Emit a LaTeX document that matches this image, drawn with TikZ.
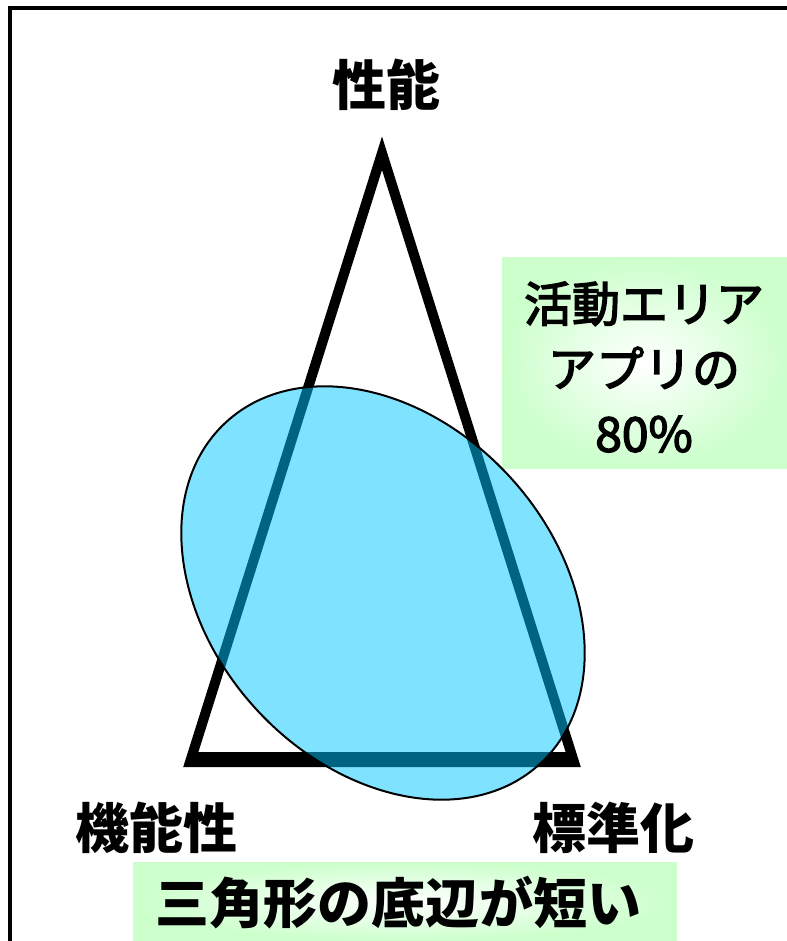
\documentclass[tikz,border=0pt]{standalone}
\usepackage{fontspec}
\newfontfamily\jp{Noto Sans CJK JP}
\newfontfamily\jpm{Noto Sans CJK JP}[FakeBold=3]
\definecolor{boxgreen}{RGB}{204,255,204}
\definecolor{ellfill}{RGB}{0,200,255}
\tikzset{
  greenbox/.style={inner color=white, outer color=boxgreen},
  lbl/.style={font=\jp\bfseries\fontsize{40.5}{46}\selectfont, inner sep=0pt},
  boxtext/.style={font=\jpm\fontsize{36}{48.75}\selectfont, inner sep=0pt, align=center},
}
\begin{document}
\begin{tikzpicture}[x=0.75pt,y=-0.75pt]
\useasboundingbox (0,0) rectangle (787,941);
\clip (0,0) rectangle (787,941);
\fill[white] (0,0) rectangle (787,941);
% frame
\draw[line width=3pt] (9.5,8) rectangle (830,990);
% green boxes
\shade[greenbox] (502,257) rectangle (787,468);
\shade[greenbox] (133,862) rectangle (677,941);
% triangle
\fill[black, even odd rule] (382,136.5) -- (183.2,767) -- (580.8,767) -- cycle
  (382,170) -- (198.4,752) -- (565.6,752) -- cycle;
% ellipse
\draw[fill=ellfill, fill opacity=0.5, draw=black, line width=1.5pt,
  rotate around={-47.4:(383,593)}] (383,593) ellipse [x radius=232, y radius=172];
% labels
\node[lbl] (top) at (386,85) {性能};
\node[lbl] (bl) at (156,828) {機能性};
\node[lbl] (br) at (613,828) {標準化};
\node[lbl] (note) at (398,903) {三角形の底辺が短い};
\node[boxtext] (area) at (644,367) {活動エリア\\アプリの\\80\%};
\end{tikzpicture}
\end{document}
